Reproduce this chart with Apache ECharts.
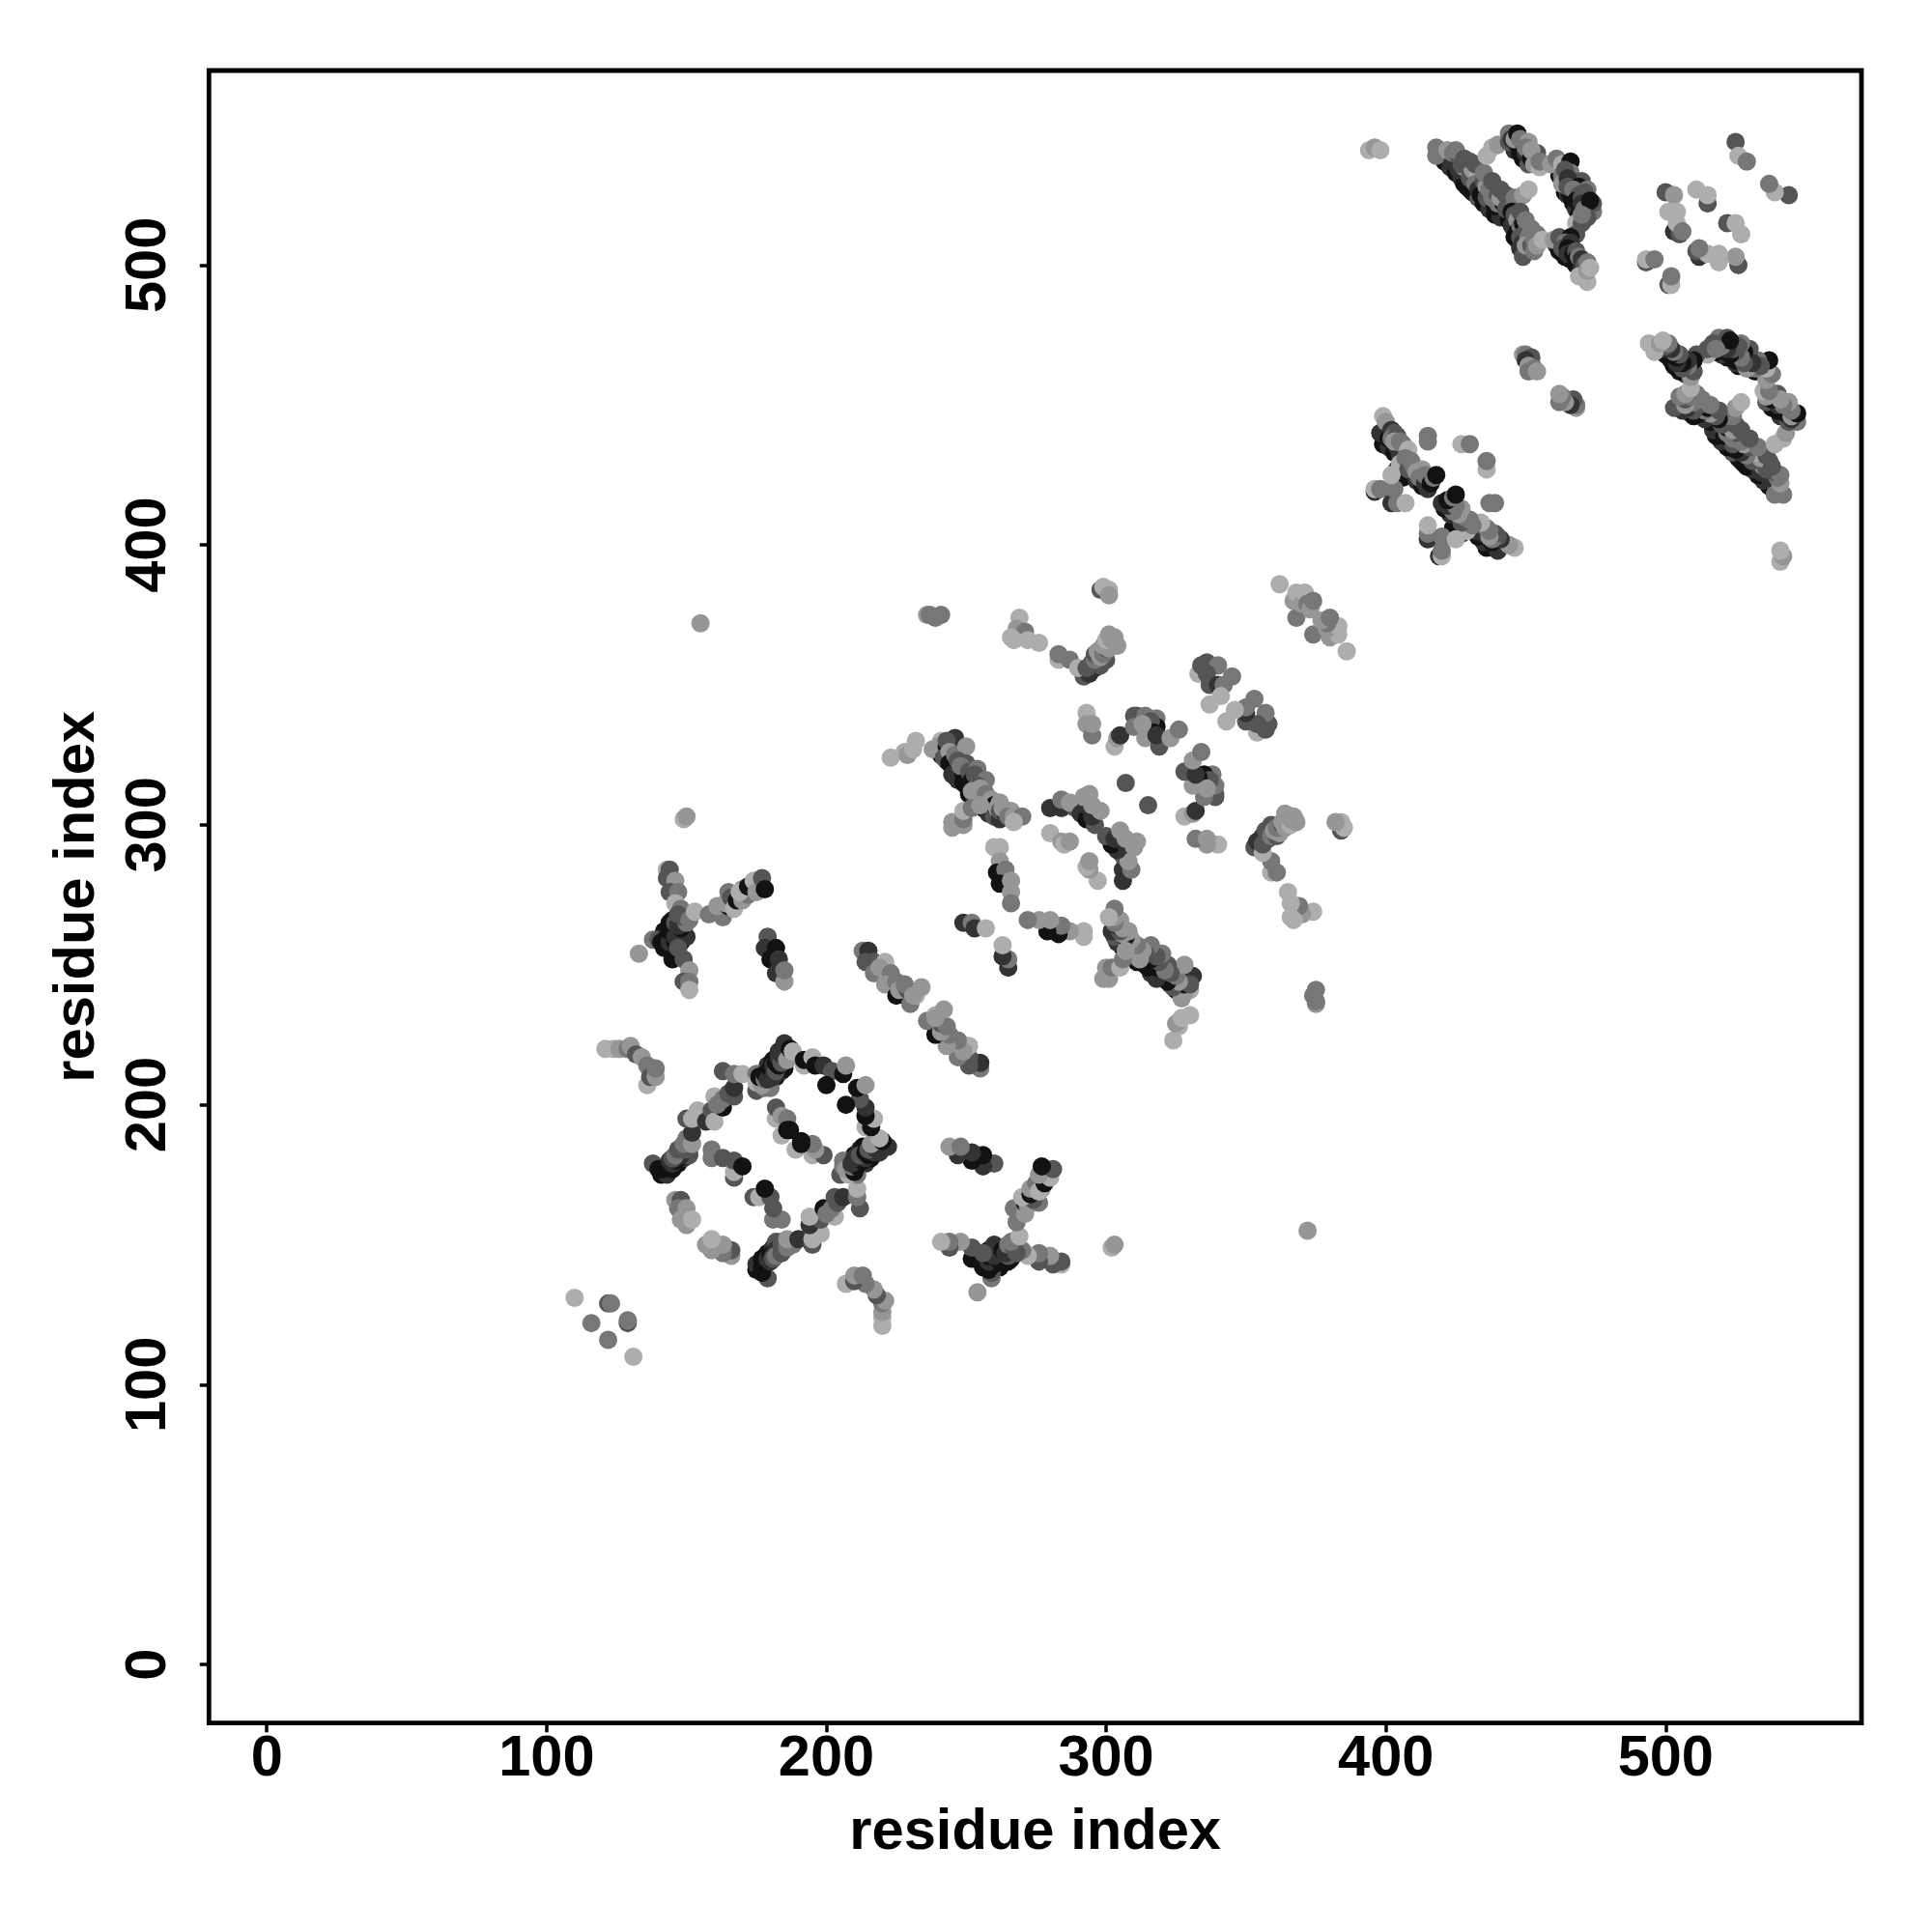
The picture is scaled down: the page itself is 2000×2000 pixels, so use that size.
<!DOCTYPE html>
<html><head><meta charset="utf-8"><title>contact map</title>
<style>html,body{margin:0;background:#fff}#c{width:2000px;height:2000px}</style>
<script src="https://cdn.jsdelivr.net/npm/echarts@6/dist/echarts.min.js"></script>
</head><body><div id="c"></div>
<script>
// Each contact: [residue i, residue j, shade level 1 (darkest) .. 6 (lightest)]. The map is symmetric.
const shadeGreys = ['#121212','#333333','#555555','#777777','#969696','#adadad'];
const tickValues = [0,100,200,300,400,500];
const corner = [[110,131,6],[122,129,3],[123,129,4],[116,122,4]];
const tail = [[121,220,6],[124,220,6],[126,220,5],[129,220,4],[130,221,5],[132,218,3],[134,217,5],[136,214,4],[136,207,6],[137,210,3],[139,210,5],[139,213,4]];
const ringUnder = [[141,175,1],[143,175,2],[145,177,1],[147,179,1],[149,181,2],[151,182,3],[176,207,2],[178,207,1],[180,209,1],[182,210,1],[184,212,2],[185,213,1],[179,214,2],[181,216,1],[183,219,2]];
const ringA = [[138,179,3],[140,177,1],[141,177,1],[142,177,1],[143,178,1],[144,178,1],[145,179,2],[146,180,1],[147,181,1],[148,182,2],[149,183,2],[144,180,2],[146,181,2],[145,181,3],[146,182,4],[147,184,3],[149,184,3],[151,184,3],[149,186,4],[151,188,3],[150,188,4],[152,186,5],[152,190,2],[150,195,3],[152,195,6]];
const ringB = [[154,198,6],[157,194,2],[159,198,3],[160,194,6],[160,203,6],[163,199,1],[161,200,4],[163,202,4],[165,204,3],[167,203,3],[167,206,2],[163,212,3],[167,211,4],[170,211,6]];
const ringC = [[175,205,3],[175,211,4],[175,208,6],[178,206,4],[180,206,4],[177,207,5],[176,210,1],[178,209,4],[178,211,1],[179,209,2],[180,213,1],[181,210,2],[181,214,2],[182,212,3],[182,215,1],[183,214,1],[183,217,2],[184,215,3],[184,218,2],[185,222,2],[186,216,5],[187,220,1],[188,219,6]];
const ringD = [[192,214,6],[192,216,1],[195,217,6],[196,214,1],[199,214,2],[202,212,3],[200,207,1],[206,211,1],[207,214,5]];
const ringInner = [[182,195,6],[182,199,3],[184,196,5],[186,195,4],[184,189,6],[186,191,1],[187,191,1]];
const ringLeft = [[159,181,4],[159,184,4],[163,181,3],[167,174,3],[167,176,6],[167,180,3],[170,178,1]];
const ringLow = [[146,166,5],[148,166,3],[147,163,4],[150,163,5],[148,159,5],[150,157,5],[152,159,6]];
const lone = [[133,254,5],[155,372,5],[149,302,6],[150,303,5],[307,315,3]];
const arm1 = [[143,284,6],[144,284,3],[143,281,3],[146,280,5],[144,276,3],[147,276,4],[146,272,6],[148,270,4]];
const armUnder = [[142,256,1],[144,256,1],[146,256,1],[148,258,1],[150,260,2],[142,262,1],[144,265,1]];
const arm2 = [[138,259,4],[140,259,3],[141,258,1],[145,252,1],[143,260,1],[144,258,2],[144,262,1],[146,258,1],[145,263,1],[146,260,2],[147,261,2],[145,266,1],[148,263,1],[146,265,3],[147,264,2],[150,265,4],[147,268,3],[149,267,3],[151,266,4],[153,269,6],[147,256,3],[149,252,3],[151,248,5],[149,244,3],[151,244,4],[151,241,6]];
const arm3 = [[158,268,4],[161,270,4],[163,267,4],[161,271,5],[165,271,1],[164,272,5],[165,276,4],[166,274,3],[167,270,6],[168,273,1],[170,273,5],[172,275,4],[170,277,5],[169,276,6],[172,278,1],[174,280,6],[175,276,5],[177,281,3],[178,277,1]];
const arm4 = [[179,260,3],[178,256,2],[182,256,1],[180,252,1],[183,252,2],[182,247,2],[185,244,5],[185,248,4]];
const strandA = [[213,255,4],[215,255,2],[214,251,3],[217,251,3],[217,247,4],[221,251,6],[222,248,6],[219,249,5],[223,247,4],[221,243,5],[225,244,4],[225,239,1],[228,239,1],[226,241,5],[229,241,3],[228,243,4],[230,236,4],[232,239,6],[231,239,5],[234,242,5]];
const strandB = [[223,324,6],[228,326,6],[229,325,5],[231,327,6],[232,330,6]];
const strandCUnder = [[241,325,1],[243,323,2],[245,321,1],[247,319,1],[247,316,2],[250,314,1],[251,311,1],[253,309,2],[256,306,1],[258,304,2],[260,303,3],[262,302,2]];
const strandC = [[238,327,5],[241,330,6],[240,328,5],[243,328,1],[246,331,2],[243,330,3],[242,324,3],[244,326,5],[244,322,1],[245,318,2],[246,325,4],[250,328,5],[247,323,3],[250,322,3],[249,318,1],[248,321,4],[249,315,1],[251,319,3],[254,320,4],[252,316,1],[253,318,3],[257,316,4],[254,314,3],[252,312,5],[255,313,5],[256,310,5],[257,311,4],[259,309,5],[260,307,1],[261,306,5],[262,308,5],[262,305,3],[264,304,2],[263,306,5],[266,305,5],[265,303,4],[267,303,5],[270,303,4],[267,301,6]];
const strandD = [[245,299,5],[245,301,5],[249,300,5],[249,302,4],[249,305,6],[252,306,4],[255,307,5]];
const strandE = [[280,306,2],[284,306,2],[284,309,4],[289,306,3],[287,308,5],[291,304,2],[293,302,1],[296,300,3],[293,307,2],[292,310,5],[294,311,5],[295,303,2],[295,307,5],[298,305,5]];
const strandF = [[280,297,6],[284,294,5],[285,293,6],[287,294,5]];
const strandG = [[260,292,6],[262,292,6],[262,287,5],[261,283,1],[264,284,4],[262,279,1],[266,280,5],[266,276,5],[266,272,4]];
const strandH = [[249,265,2],[252,265,4],[253,263,2],[257,263,6]];
const top1 = [[236,375,5],[237,375,4],[239,374,4],[241,375,4]];
const top2 = [[269,374,6],[268,370,5],[271,369,4],[266,367,6],[267,366,6],[272,366,6],[276,365,6]];
const top3 = [[292,353,3],[294,354,2],[296,356,2],[298,357,3],[300,359,3],[283,359,6],[283,361,4],[287,359,4],[290,356,6],[293,356,3],[295,358,3],[296,359,4],[296,361,3],[298,360,5],[297,362,5],[299,361,4],[300,363,3],[301,363,5],[299,364,5],[300,366,6],[302,366,5],[301,368,5],[303,367,5],[304,364,5]];
const top4 = [[298,384,3],[299,385,6],[301,384,6],[301,382,5]];
const top5 = [[362,386,6],[368,374,4],[367,380,5],[369,381,5],[368,383,6],[370,379,5],[371,383,6],[372,379,4],[373,377,5],[374,380,4]];
const mid1 = [[333,354,6],[334,357,3],[336,358,3],[340,357,4],[336,354,3],[337,350,3],[340,350,2],[342,350,4],[345,353,4],[341,346,6],[337,343,6]];
const mid2 = [[293,340,6],[293,336,5],[295,332,4],[295,336,5],[303,328,6],[304,331,5],[305,332,2]];
const mid3 = [[311,339,3],[310,339,3],[310,335,4],[314,339,4],[318,338,4],[315,335,1],[318,335,1],[316,337,3],[317,333,1],[314,331,5],[313,336,5],[319,328,3],[318,332,2],[323,331,5],[326,334,4]];
const far1 = [[394,541,6],[396,542,5],[398,541,6]];
const farUnder = [[421,537,1],[423,535,2],[425,533,1],[427,531,2],[428,529,1],[430,527,2],[431,526,1],[433,524,3],[435,522,1],[437,520,2],[439,518,1],[441,517,2],[444,516,1],[445,514,2],[446,510,1],[447,509,1],[448,506,2],[450,505,1],[446,541,2],[448,540,1],[449,538,1],[451,536,3],[462,532,1],[463,530,2],[464,526,1],[465,525,2],[467,522,1],[468,520,2],[469,518,1],[469,515,3],[461,507,2],[462,505,1],[464,503,1],[466,502,1],[468,500,1],[470,497,3]];
const far2 = [[418,539,4],[418,542,4],[424,537,2],[422,541,5],[424,540,4],[426,539,3],[426,534,2],[428,535,5],[427,536,3],[430,537,3],[429,528,1],[430,531,3],[431,534,5],[433,532,6],[432,529,4],[433,527,2],[435,530,3],[434,525,1],[436,528,5],[436,524,3],[437,527,4],[439,521,1],[438,524,4],[440,525,3],[440,522,4],[442,522,1],[441,524,5],[443,520,3],[425,541,4],[428,538,3],[432,536,3],[435,533,4],[438,530,3],[441,527,3],[443,525,3],[446,521,4],[446,524,4],[449,525,5],[451,527,6]];
const far3 = [[445,519,1],[446,518,3],[447,516,5],[447,512,1],[448,514,4],[449,515,1],[448,510,3],[449,508,2],[450,512,3],[451,510,4],[449,503,3],[450,507,5],[452,507,3],[448,519,3],[450,516,4],[452,513,4],[454,511,4],[453,505,4],[453,509,4],[454,507,5],[456,509,6]];
const far4 = [[436,539,6],[438,542,6],[440,543,5],[444,547,4],[444,544,3],[447,543,1],[445,545,2],[446,545,5],[447,547,1],[449,544,2],[448,545,4],[451,544,5],[450,540,2],[450,542,4],[452,538,1],[454,540,3],[452,541,5],[453,536,5],[455,535,6],[455,537,4]];
const far5 = [[459,536,5],[461,538,4],[463,536,6],[466,537,1],[466,533,4],[463,532,4],[464,534,3],[463,529,5],[467,530,3],[470,530,3],[465,531,2],[466,525,1],[465,528,3],[469,528,1],[467,527,4],[472,527,4],[471,526,3],[469,525,3],[468,523,1],[470,524,3],[470,522,2],[472,519,3],[473,520,2],[471,520,4],[474,519,4],[474,522,3],[473,523,1],[468,515,6],[470,515,3],[472,517,3],[470,518,4],[468,511,3]];
const far6 = [[460,509,5],[462,510,3],[466,510,1],[464,508,4],[463,506,3],[466,508,2],[465,506,1],[465,504,2],[467,504,1],[468,505,3],[468,502,1],[469,503,4],[470,502,2],[470,499,2],[471,500,3],[472,501,4],[469,496,6],[472,494,6],[472,498,5],[473,499,6]];
const far7 = [[493,501,3],[493,502,6],[496,502,4],[500,526,3],[503,525,5],[502,519,6],[501,519,6],[504,519,6],[503,512,2],[505,511,3],[504,515,6],[506,512,4],[511,527,6],[515,522,3],[515,525,6],[525,544,3],[526,539,6],[529,537,4]];
const near1 = [[449,468,5],[450,468,4],[452,467,3],[450,466,2],[451,464,5],[451,462,4],[453,463,4],[454,462,5]];
const near2 = [[399,436,1],[401,435,2],[403,433,1],[405,432,2],[404,427,2],[406,424,1],[409,425,1],[411,423,2],[413,421,1],[415,420,2],[398,440,2],[399,446,6],[400,444,5],[401,438,1],[402,441,2],[403,440,3],[402,438,4],[404,435,2],[404,439,3],[403,437,5],[405,437,4],[406,436,4],[408,434,6],[406,426,1],[405,429,6],[407,431,4],[408,427,3],[409,430,4],[410,428,4],[411,426,5],[413,427,5],[412,424,4],[414,422,2],[415,424,3],[414,425,4],[416,422,1],[417,424,4],[418,425,1]];
const near3 = [[415,439,4],[415,437,4],[427,436,6],[430,436,4],[396,419,2],[396,420,6],[398,420,4],[402,415,2],[403,420,4],[404,415,4],[407,415,6],[402,425,6]];

const contacts = [].concat(corner,tail,ringUnder,ringA,ringB,ringC,ringD,ringInner,ringLeft,ringLow,lone,arm1,armUnder,arm2,arm3,arm4,
  strandA,strandB,strandCUnder,strandC,strandD,strandE,strandF,strandG,strandH,top1,top2,top3,top4,top5,mid1,mid2,mid3,
  far1,farUnder,far2,far3,far4,far5,far6,far7,near1,near2,near3);
const mirrored = contacts.map(c => [c[1],c[0],c[2]]);

const font = {fontFamily:'"Liberation Sans"',fontWeight:'bold',fontSize:59.5,color:'#000'};
const axisBase = {
  type:'value', nameLocation:'middle', name:'residue index', nameMoveOverlap:false,
  nameTextStyle:Object.assign({},font,{fontSize:59.7}),
  splitLine:{show:false}, axisLine:{show:false,onZero:false},
  axisTick:{show:true,length:9.5,lineStyle:{color:'#000',width:3.5},customValues:tickValues}
};
const chart = echarts.init(document.getElementById('c'),null,{renderer:'canvas'});
chart.setOption({
  animation:false, backgroundColor:'#fff',
  grid:{show:true,left:216.3,right:73,top:73,bottom:216.3,borderColor:'#000',borderWidth:4.8,backgroundColor:'transparent'},
  xAxis:Object.assign({},axisBase,{min:-20.7,max:570,nameGap:84,axisLabel:Object.assign({},font,{margin:8,customValues:tickValues})}),
  yAxis:Object.assign({},axisBase,{min:-20.9,max:569.5,nameGap:106,axisLabel:Object.assign({},font,{rotate:90,margin:62,customValues:tickValues,align:'center',verticalAlign:'middle'})}),
  series:[{type:'scatter',symbol:'circle',symbolSize:19,silent:true,
    data:contacts.concat(mirrored),
    itemStyle:{opacity:1,color:p=>shadeGreys[p.value[2]-1]}}]
});
</script></body></html>
